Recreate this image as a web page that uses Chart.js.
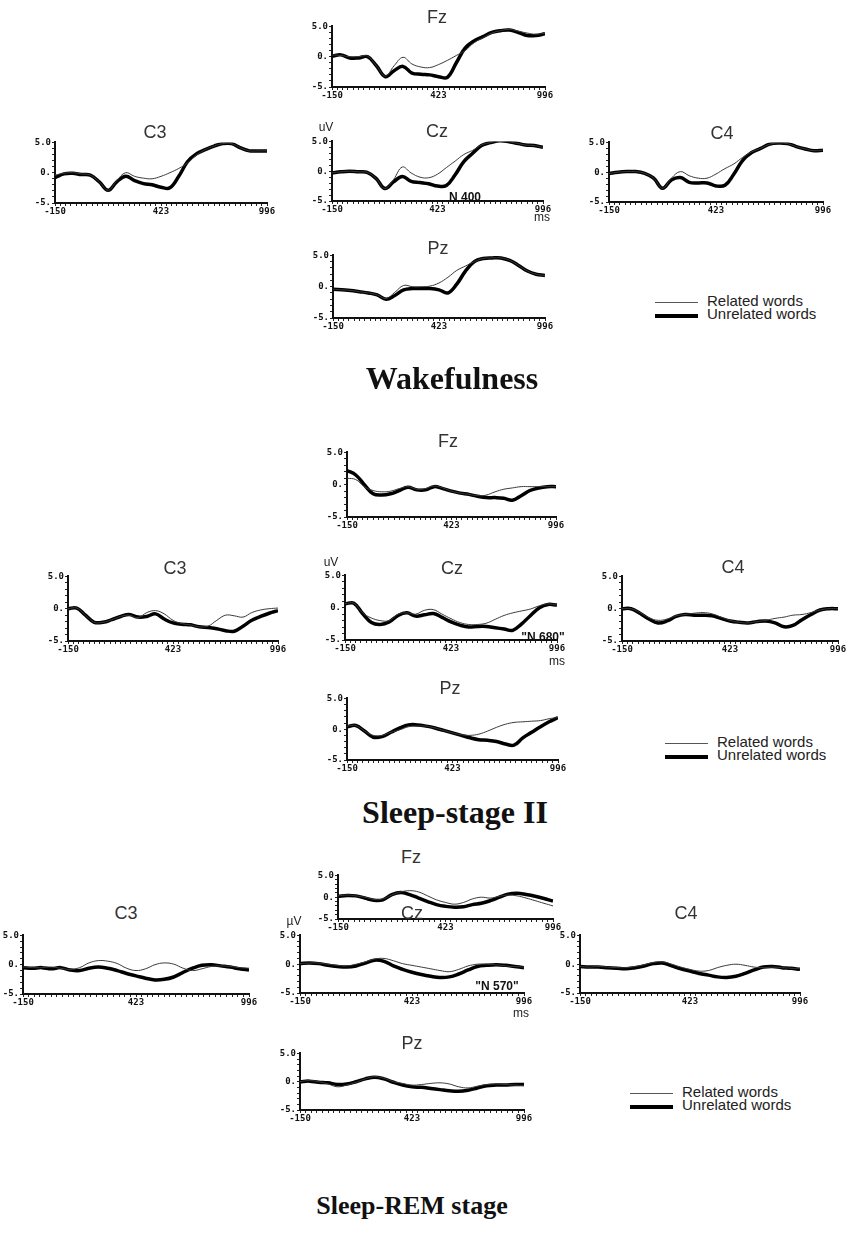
<!DOCTYPE html>
<html>
<head>
<meta charset="utf-8">
<script src="https://cdn.jsdelivr.net/npm/chart.js@4"></script>
<style>
  body { margin: 0; background: #fff; width: 846px; height: 1249px; position: relative; overflow: hidden; }
  canvas { position: absolute; }
  .lbl { position: absolute; transform: translate(-50%, -50%); white-space: nowrap; color: #222; }
  .site { font: 18px "Liberation Sans", Arial, sans-serif; color: #333; }
  .unit { font: 12px "Liberation Sans", Arial, sans-serif; color: #222; }
  .peak { font: bold 12px "Liberation Sans", Arial, sans-serif; color: #111; }
  .stage { font: bold 32px "Liberation Serif", "Times New Roman", serif; color: #111; }
  .legend { position: absolute; font: 15px "Liberation Sans", Arial, sans-serif; color: #222; line-height: 13px; width: 200px; }
  .legend .row { position: relative; height: 13px; }
  .legend .swatch { position: absolute; left: 0; width: 43px; }
  .legend .txt { position: absolute; left: 52px; top: -2px; white-space: nowrap; }
</style>
</head>
<body>
<script>
// sample times (ms) shared by every panel
const times = [-150, -102, -55, -7, 41, 89, 137, 184, 232, 280, 328, 375, 423, 471, 519, 566, 614, 662, 710, 757, 805, 853, 901, 948, 996];
const xTickLabels = ['-150', '423', '996'];
const yTickLabels = { '5': '5.0', '0': '0.', '-5': '-5.' };
const seriesNames = ['Related words', 'Unrelated words'];

// Wakefulness (uV)
const wakeFzRelated   = [0.3, 0.2, 0.0, 0.0, 0.1, -1.5, -3.2, -1.5, -0.1, -1.2, -1.7, -1.8, -1.3, -0.6, 0.2, 1.0, 2.3, 3.1, 3.9, 4.3, 4.5, 4.2, 3.9, 3.7, 3.9];
const wakeFzUnrelated = [0.1, 0.3, -0.2, -0.2, 0.0, -1.5, -3.3, -2.3, -1.6, -2.7, -2.9, -3.0, -3.3, -3.4, -1.0, 1.4, 2.6, 3.3, 4.0, 4.3, 4.4, 4.0, 3.5, 3.5, 3.8];
const wakeC3Related   = [-0.4, -0.1, 0.0, -0.2, -0.4, -1.5, -2.9, -1.3, 0.0, -0.6, -0.9, -1.0, -0.6, 0.0, 0.7, 1.6, 2.9, 3.8, 4.4, 4.8, 4.8, 4.1, 3.6, 3.6, 3.6];
const wakeC3Unrelated = [-0.8, -0.2, -0.1, -0.3, -0.4, -1.5, -2.9, -1.5, -0.6, -1.3, -1.8, -2.0, -2.4, -2.5, -0.6, 1.8, 3.1, 3.8, 4.4, 4.8, 4.8, 4.1, 3.6, 3.6, 3.6];
const wakeCzRelated   = [-0.3, -0.1, 0.0, -0.1, -0.2, -1.2, -2.9, -1.4, 0.7, -0.3, -1.0, -1.1, -0.5, 0.6, 1.7, 2.8, 3.5, 4.4, 4.8, 5.1, 5.0, 4.7, 4.4, 4.3, 4.0];
const wakeCzUnrelated = [-0.3, -0.1, 0.0, -0.1, -0.2, -1.2, -2.9, -1.8, -0.9, -1.7, -1.9, -2.1, -2.5, -2.4, -0.6, 1.6, 3.0, 4.3, 4.8, 5.1, 5.0, 4.7, 4.4, 4.3, 4.0];
const wakeC4Related   = [-0.2, 0.0, 0.1, 0.1, -0.2, -1.0, -2.7, -1.0, 0.1, -0.6, -1.0, -1.0, -0.3, 0.6, 1.4, 2.5, 3.4, 4.0, 4.7, 4.9, 4.8, 4.3, 3.9, 3.6, 3.7];
const wakeC4Unrelated = [-0.2, 0.0, 0.1, 0.1, -0.2, -1.0, -2.7, -1.3, -0.9, -1.7, -1.8, -1.8, -2.3, -2.2, -0.3, 2.0, 3.3, 4.0, 4.7, 4.9, 4.8, 4.3, 3.9, 3.6, 3.7];
const wakePzRelated   = [-0.4, -0.5, -0.6, -0.8, -1.0, -1.3, -1.9, -0.9, 0.2, 0.0, 0.0, 0.1, 0.6, 1.5, 2.6, 3.3, 4.0, 4.5, 4.6, 4.6, 4.2, 3.4, 2.5, 2.0, 1.8];
const wakePzUnrelated = [-0.4, -0.5, -0.6, -0.8, -1.0, -1.3, -2.0, -1.4, -0.5, -0.3, -0.3, -0.3, -0.5, -1.0, 0.4, 2.5, 4.0, 4.5, 4.6, 4.6, 4.2, 3.4, 2.5, 2.0, 1.8];

// Sleep-stage II (uV)
const s2FzRelated   = [1.0, 0.8, -0.3, -0.9, -1.1, -1.0, -0.6, -0.3, -0.7, -0.6, -0.2, -0.5, -1.0, -1.3, -1.5, -1.7, -1.6, -1.1, -0.7, -0.5, -0.3, -0.3, -0.3, -0.3, -0.3];
const s2FzUnrelated = [2.2, 1.5, 0.0, -1.4, -1.6, -1.4, -0.9, -0.4, -0.8, -0.8, -0.3, -0.6, -1.0, -1.3, -1.5, -1.8, -2.0, -2.0, -2.1, -2.4, -1.7, -0.9, -0.5, -0.3, -0.3];
const s2C3Related   = [0.0, 0.1, -1.0, -2.1, -2.1, -1.7, -1.2, -1.0, -1.4, -0.6, -0.3, -0.8, -1.8, -2.3, -2.5, -2.8, -2.7, -1.8, -1.0, -1.1, -1.3, -0.6, -0.2, 0.0, 0.1];
const s2C3Unrelated = [0.0, 0.1, -1.0, -2.1, -2.1, -1.7, -1.2, -0.9, -1.3, -1.2, -0.8, -1.6, -2.2, -2.4, -2.5, -2.8, -2.9, -3.1, -3.4, -3.5, -2.7, -1.8, -1.2, -0.7, -0.3];
const s2CzRelated   = [0.6, 0.7, -0.8, -1.6, -2.0, -2.0, -1.0, -0.8, -1.0, -0.4, -0.3, -1.0, -1.7, -2.3, -2.6, -2.6, -2.4, -1.8, -1.2, -0.8, -0.5, -0.2, 0.3, 0.6, 0.4];
const s2CzUnrelated = [0.6, 0.7, -0.9, -2.3, -2.6, -2.2, -1.2, -0.8, -1.3, -1.1, -0.9, -1.5, -2.2, -2.7, -3.0, -2.9, -2.9, -3.1, -3.3, -3.5, -2.5, -1.2, 0.0, 0.5, 0.4];
const s2C4Related   = [0.0, 0.0, -0.6, -1.4, -1.8, -1.6, -1.1, -0.9, -0.7, -0.6, -0.8, -1.3, -1.8, -2.1, -2.2, -2.0, -1.8, -1.5, -1.3, -1.0, -0.9, -0.6, -0.2, 0.0, 0.0];
const s2C4Unrelated = [0.0, 0.0, -0.7, -1.6, -2.2, -1.9, -1.2, -0.9, -1.0, -1.0, -1.1, -1.5, -1.9, -2.1, -2.2, -2.0, -1.9, -2.2, -2.8, -2.6, -1.7, -0.9, -0.2, 0.0, 0.0];
const s2PzRelated   = [0.5, 0.6, -0.3, -1.0, -1.0, -0.5, -0.1, 0.4, 0.5, 0.5, 0.2, -0.2, -0.6, -0.9, -1.0, -0.8, -0.3, 0.3, 0.8, 1.1, 1.2, 1.3, 1.4, 1.7, 1.9];
const s2PzUnrelated = [0.4, 0.6, -0.3, -1.3, -1.2, -0.5, 0.2, 0.7, 0.7, 0.5, 0.2, -0.2, -0.6, -1.0, -1.4, -1.7, -1.8, -2.0, -2.4, -2.6, -1.4, -0.5, 0.4, 1.2, 1.9];

// Sleep-REM stage (uV)
const remFzRelated   = [0.3, 0.5, 0.3, 0.0, -0.5, -0.4, 0.5, 1.2, 1.5, 1.2, 0.3, -0.6, -1.2, -1.6, -1.2, -0.4, 0.0, -0.2, 0.2, 0.5, 0.3, -0.2, -0.8, -1.4, -2.0];
const remFzUnrelated = [0.2, 0.4, 0.3, -0.2, -0.7, -0.6, 0.6, 1.1, 0.6, -0.2, -1.0, -1.7, -2.1, -2.3, -2.2, -1.7, -1.4, -0.8, 0.0, 0.7, 0.9, 0.6, 0.2, -0.3, -0.9];
const remC3Related   = [-0.4, -0.5, -0.5, -0.4, -0.6, -0.8, -0.5, 0.3, 0.7, 0.6, 0.2, -0.6, -1.0, -0.7, 0.0, 0.3, 0.1, -0.6, -1.0, -0.7, -0.3, -0.2, -0.3, -0.5, -0.6];
const remC3Unrelated = [-0.5, -0.6, -0.5, -0.7, -0.5, -0.9, -1.0, -0.6, -0.4, -0.6, -1.0, -1.5, -1.9, -2.3, -2.6, -2.5, -2.1, -1.3, -0.6, -0.1, 0.0, -0.2, -0.4, -0.7, -0.9];
const remCzRelated   = [0.1, 0.2, 0.2, 0.0, -0.2, -0.3, 0.0, 0.4, 0.9, 1.0, 0.6, 0.1, -0.2, -0.5, -0.8, -1.1, -1.3, -0.9, -0.3, 0.0, 0.0, -0.1, -0.3, -0.4, -0.5];
const remCzUnrelated = [0.1, 0.2, 0.1, -0.2, -0.4, -0.5, -0.3, 0.2, 0.7, 0.5, -0.3, -0.9, -1.4, -1.8, -2.1, -2.3, -2.2, -1.7, -1.0, -0.4, -0.2, -0.1, -0.2, -0.4, -0.6];
const remC4Related   = [-0.4, -0.5, -0.4, -0.5, -0.6, -0.6, -0.4, -0.1, 0.3, 0.4, 0.0, -0.5, -0.9, -1.2, -1.1, -0.6, -0.2, 0.0, -0.2, -0.5, -0.6, -0.5, -0.6, -0.7, -0.8];
const remC4Unrelated = [-0.4, -0.5, -0.5, -0.6, -0.7, -0.8, -0.6, -0.3, 0.1, 0.2, -0.3, -0.8, -1.2, -1.6, -1.9, -2.2, -2.3, -2.1, -1.6, -1.0, -0.5, -0.4, -0.6, -0.7, -0.9];
const remPzRelated   = [0.0, 0.2, 0.0, -0.4, -0.9, -0.6, -0.1, 0.5, 0.9, 0.6, 0.0, -0.3, -0.6, -0.5, -0.3, -0.2, -0.4, -0.9, -1.1, -0.8, -0.5, -0.4, -0.5, -0.6, -0.7];
const remPzUnrelated = [0.0, 0.1, -0.1, -0.2, -0.5, -0.4, 0.0, 0.5, 0.8, 0.5, -0.1, -0.6, -0.9, -1.0, -1.2, -1.4, -1.6, -1.7, -1.5, -1.1, -0.7, -0.6, -0.6, -0.5, -0.5];

// plot boxes on the page: left, right, top (+5 uV), bottom (-5 uV)
const panels = [
  { site: 'Fz', box: [332, 545, 26, 87],  rel: wakeFzRelated, unrel: wakeFzUnrelated },
  { site: 'C3', box: [55, 267, 142, 203], rel: wakeC3Related, unrel: wakeC3Unrelated },
  { site: 'Cz', box: [332, 543, 141, 201], rel: wakeCzRelated, unrel: wakeCzUnrelated },
  { site: 'C4', box: [609, 823, 142, 202], rel: wakeC4Related, unrel: wakeC4Unrelated },
  { site: 'Pz', box: [333, 545, 255, 318], rel: wakePzRelated, unrel: wakePzUnrelated },
  { site: 'Fz', box: [347, 556, 452, 517], rel: s2FzRelated, unrel: s2FzUnrelated },
  { site: 'C3', box: [68, 278, 576, 641],  rel: s2C3Related, unrel: s2C3Unrelated },
  { site: 'Cz', box: [345, 557, 575, 640], rel: s2CzRelated, unrel: s2CzUnrelated },
  { site: 'C4', box: [622, 838, 576, 641], rel: s2C4Related, unrel: s2C4Unrelated },
  { site: 'Pz', box: [347, 558, 698, 760], rel: s2PzRelated, unrel: s2PzUnrelated },
  { site: 'Fz', box: [338, 553, 875, 919], rel: remFzRelated, unrel: remFzUnrelated },
  { site: 'C3', box: [23, 249, 935, 994],  rel: remC3Related, unrel: remC3Unrelated },
  { site: 'Cz', box: [300, 524, 935, 993], rel: remCzRelated, unrel: remCzUnrelated },
  { site: 'C4', box: [580, 800, 935, 993], rel: remC4Related, unrel: remC4Unrelated },
  { site: 'Pz', box: [300, 524, 1053, 1110], rel: remPzRelated, unrel: remPzUnrelated }
];

const tickFont = { family: '"DejaVu Sans Mono", monospace', size: 9, weight: 'bold' };
const padL = 30, padR = 14, padT = 6, padB = 15;

function addLabel(text, x, y, cls, size) {
  const d = document.createElement('div');
  d.className = 'lbl ' + cls;
  d.textContent = text;
  d.style.left = x + 'px';
  d.style.top = y + 'px';
  if (size) d.style.fontSize = size + 'px';
  document.body.appendChild(d);
}

function makePanel(p) {
  const [left, right, top, bottom] = p.box;
  const c = document.createElement('canvas');
  c.width = (right - left) + padL + padR;
  c.height = (bottom - top) + padT + padB;
  c.style.left = (left - padL) + 'px';
  c.style.top = (top - padT) + 'px';
  document.body.appendChild(c);

  const pts = arr => times.map((t, i) => ({ x: t, y: arr[i] }));

  return new Chart(c, {
    type: 'line',
    data: {
      datasets: [{
        label: seriesNames[0],
        data: pts(p.rel),
        borderColor: '#3a3a3a',
        borderWidth: 1,
        tension: 0.4,
        pointRadius: 0
      }, {
        label: seriesNames[1],
        data: pts(p.unrel),
        borderColor: '#000',
        borderWidth: 3.5,
        tension: 0.4,
        pointRadius: 0
      }]
    },
    options: {
      responsive: false,
      animation: false,
      events: [],
      layout: { padding: { top: padT, right: padR, left: 0, bottom: 0 } },
      plugins: { legend: { display: false }, tooltip: { enabled: false } },
      scales: {
        x: {
          type: 'linear',
          min: times[0],
          max: times[times.length - 1],
          afterBuildTicks: s => {
            const step = (s.max - s.min) / 40;
            s.ticks = [];
            for (let i = 0; i <= 40; i++) s.ticks.push({ value: s.min + i * step });
          },
          afterFit: s => { s.height = padB; },
          ticks: {
            autoSkip: false,
            maxRotation: 0,
            padding: 0,
            color: '#111',
            font: tickFont,
            callback: (v, i) => (i % 20 === 0 ? xTickLabels[i / 20] : '')
          },
          grid: { drawOnChartArea: false, tickLength: 3, color: '#222' },
          border: { color: '#111', width: 2 }
        },
        y: {
          min: -5,
          max: 5,
          afterBuildTicks: s => {
            s.ticks = [];
            for (let v = -5; v <= 5; v++) s.ticks.push({ value: v });
          },
          afterFit: s => { s.width = padL; },
          ticks: {
            autoSkip: false,
            padding: 1,
            color: '#111',
            font: tickFont,
            callback: v => yTickLabels[String(v)] || ''
          },
          grid: { drawOnChartArea: false, tickLength: 3, color: '#222' },
          border: { color: '#111', width: 2 }
        }
      }
    }
  });
}

panels.forEach(makePanel);

// electrode names
const siteTitles = [
  ['Fz', 437, 17], ['C3', 155, 132], ['Cz', 437, 131], ['C4', 722, 133], ['Pz', 438, 248],
  ['Fz', 448, 441], ['C3', 175, 568], ['Cz', 452, 568], ['C4', 733, 567], ['Pz', 450, 688],
  ['Fz', 411, 857], ['C3', 126, 913], ['Cz', 412, 913], ['C4', 686, 913], ['Pz', 412, 1043]
];
siteTitles.forEach(t => addLabel(t[0], t[1], t[2], 'site'));

// units and peak labels
addLabel('uV', 326, 127, 'unit');
addLabel('ms', 542, 217, 'unit');
addLabel('N 400', 465, 197, 'peak');
addLabel('uV', 331, 562, 'unit');
addLabel('ms', 557, 661, 'unit');
addLabel('"N 680"', 543, 637, 'peak');
addLabel('µV', 294, 921, 'unit');
addLabel('ms', 521, 1013, 'unit');
addLabel('"N 570"', 497, 986, 'peak');

// stage titles
addLabel('Wakefulness', 452, 378, 'stage', 32);
addLabel('Sleep-stage II', 455, 812, 'stage', 32);
addLabel('Sleep-REM stage', 412, 1206, 'stage', 26);

// legends
function addLegend(x, y) {
  const lg = document.createElement('div');
  lg.className = 'legend';
  lg.style.left = x + 'px';
  lg.style.top = y + 'px';
  seriesNames.forEach((name, i) => {
    const row = document.createElement('div');
    row.className = 'row';
    const sw = document.createElement('div');
    sw.className = 'swatch';
    sw.style.height = i === 0 ? '1px' : '4px';
    sw.style.top = i === 0 ? '6px' : '5px';
    sw.style.background = i === 0 ? '#555' : '#000';
    const tx = document.createElement('div');
    tx.className = 'txt';
    tx.textContent = name;
    row.appendChild(sw);
    row.appendChild(tx);
    lg.appendChild(row);
  });
  document.body.appendChild(lg);
}
addLegend(655, 296);
addLegend(665, 737);
addLegend(630, 1087);
</script>
</body>
</html>
